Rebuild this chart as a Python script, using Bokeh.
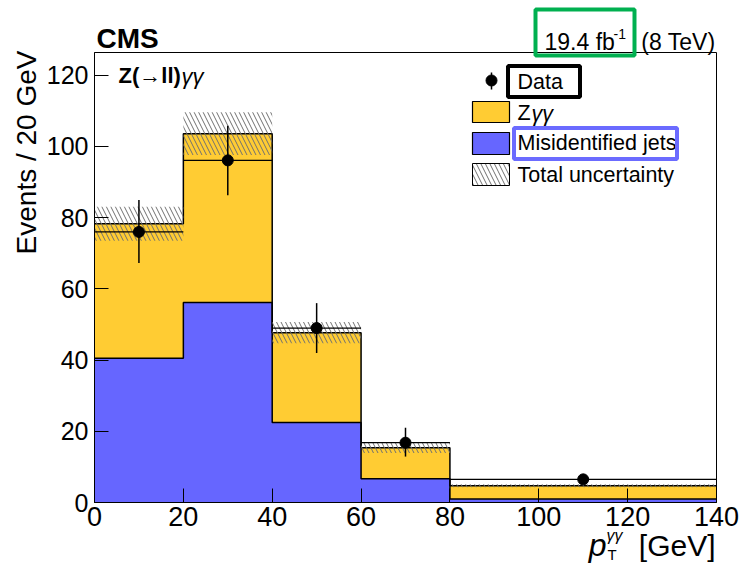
import numpy as np
from math import pi

from bokeh.plotting import figure
from bokeh.models import Range1d, FixedTicker, Label, BoxAnnotation, LinearAxis
from bokeh.embed import file_html
from bokeh.resources import INLINE

# ---- binning in pT(gamma gamma) [GeV] ----
bin_lo = [0, 20, 40, 60, 80]
bin_hi = [20, 40, 60, 80, 140]

# ---- expected yields, events / 20 GeV ----
misid_jets = [40.5, 56.2, 22.5, 6.7, 1.0]
zgg = [37.8, 47.4, 25.2, 8.7, 3.7]
total_unc = [4.8, 6.0, 3.0, 1.5, 0.4]

# ---- observed data, events / 20 GeV ----
data_y = [76.0, 96.1, 49.0, 16.8, 6.5]
data_err_up = [9.0, 9.7, 7.0, 4.2, 1.5]
data_err_dn = [8.7, 9.8, 7.0, 3.9, 1.4]

x_ticks = [0, 20, 40, 60, 80, 100, 120, 140]
y_ticks = [0, 20, 40, 60, 80, 100, 120]

# ---- canvas / inner frame geometry (pixels) ----
W, H = 741, 565
FL, FR, FT, FB = 94, 716, 52, 502
X0, X1 = 0, 140
Y0, Y1 = 0, 126.4

FONT = "Liberation Sans"
YELLOW = "#ffcc33"
BLUE = "#6666ff"
HATCH = "#707070"


def cx(px):
    return X0 + (px - FL) * (X1 - X0) / (FR - FL)


def cy(py):
    return Y0 + (FB - py) * (Y1 - Y0) / (FB - FT)


# the plotting area spans the whole canvas; axes sit at fixed data locations
p = figure(width=W, height=H, x_range=Range1d(cx(0), cx(W)), y_range=Range1d(cy(H), cy(0)),
           output_backend="svg", toolbar_location=None,
           x_axis_location=None, y_axis_location=None, min_border=0)
p.title.visible = False
p.background_fill_color = "white"
p.border_fill_color = "white"
p.outline_line_color = None
p.grid.visible = False

lo = np.array(bin_lo, dtype=float)
hi = np.array(bin_hi, dtype=float)
misid = np.array(misid_jets)
stack_top = misid + np.array(zgg)
unc = np.array(total_unc)
dy = np.array(data_y)
xc = 0.5 * (lo + hi)
edges = np.append(lo, hi[-1])
misid_step = np.append(misid, misid[-1])
top_step = np.append(stack_top, stack_top[-1])

# stacked histograms
p.varea_step(x=edges, y1=np.zeros_like(edges), y2=misid_step, step_mode="after", fill_color=BLUE)
p.varea_step(x=edges, y1=misid_step, y2=top_step, step_mode="after", fill_color=YELLOW)
p.step(edges, misid_step, mode="after", line_color="black", line_width=1.5)
p.step(edges, top_step, mode="after", line_color="black", line_width=1.5)

# total uncertainty band
p.quad(left=lo, right=hi, bottom=stack_top - unc, top=stack_top + unc,
       fill_alpha=0, line_color=None, hatch_pattern="\\", hatch_color=HATCH,
       hatch_scale=9, hatch_weight=1)

# data points with error bars
p.segment(x0=xc, y0=dy - np.array(data_err_dn), x1=xc, y1=dy + np.array(data_err_up),
          line_color="black", line_width=1.5)
p.segment(x0=lo, y0=dy, x1=hi, y1=dy, line_color="black", line_width=1.2)
p.scatter(xc, dy, size=11, color="black")

# frame
p.quad(left=[X0], right=[X1], bottom=[Y0], top=[Y1], fill_alpha=0,
       line_color="black", line_width=1)

# axes
xaxis = LinearAxis(fixed_location=Y0, bounds=(X0, X1), ticker=FixedTicker(ticks=x_ticks))
yaxis = LinearAxis(fixed_location=X0, bounds=(Y0, Y1), ticker=FixedTicker(ticks=y_ticks))
p.add_layout(xaxis, "below")
p.add_layout(yaxis, "left")
for ax in (xaxis, yaxis):
    ax.minor_tick_line_color = None
    ax.major_tick_in = 14
    ax.major_tick_out = 0
    ax.major_tick_line_color = "black"
    ax.major_tick_line_width = 1
    ax.axis_line_color = "black"
    ax.major_label_text_font = FONT
    ax.major_label_text_color = "black"
xaxis.major_label_text_font_size = "27px"
yaxis.major_label_text_font_size = "25px"
xaxis.major_label_standoff = 4
yaxis.major_label_standoff = 6


def text(px, py, s, size, align="left", style="normal", angle=0.0):
    """Place a text by its left/right edge and its vertical middle, in canvas pixels."""
    p.add_layout(Label(x=cx(px), y=cy(py), text=s, text_font=FONT,
                       text_font_size=f"{size}px", text_font_style=style,
                       text_align=align, text_baseline="middle",
                       text_color="black", angle=angle))


# axis titles
text(26, 50, "Events / 20 GeV", 28, align="right", angle=pi / 2)
text(715, 545, "[GeV]", 30, align="right")
text(606, 544, "p", 32, align="right", style="italic")
text(606, 535, "γγ", 16, style="italic")
text(607, 554, "T", 15)

# header
text(96, 38, "CMS", 28, style="bold")
text(544, 41, "19.4 fb", 23)
text(613, 33, "-1", 14)
text(715, 41, "(8 TeV)", 23, align="right")
text(118, 75, "Z(→ll)", 22, style="bold")
text(181, 76, "γγ", 22, style="italic")

# legend
p.scatter([cx(491)], [cy(80)], size=11, color="black")
p.segment(x0=[cx(491)], y0=[cy(72)], x1=[cx(491)], y1=[cy(89)], line_color="black", line_width=1.5)
p.quad(left=[cx(472)], right=[cx(509)], top=[cy(101)], bottom=[cy(122)],
       fill_color=YELLOW, line_color="black", line_width=1.2)
p.quad(left=[cx(472)], right=[cx(509)], top=[cy(132)], bottom=[cy(154)],
       fill_color=BLUE, line_color="black", line_width=1.2)
p.quad(left=[cx(472)], right=[cx(509)], top=[cy(163)], bottom=[cy(185)],
       fill_color="white", line_color="black", line_width=1.0,
       hatch_pattern="\\", hatch_color=HATCH, hatch_scale=9, hatch_weight=1)
text(517, 81, "Data", 21.5)
text(517, 112, "Z", 21.5)
text(531, 113, "γγ", 21.5, style="italic")
text(517, 142, "Misidentified jets", 21.5)
text(517, 174, "Total uncertainty", 21.5)

# highlight boxes
for (l, r, t, b, col) in ((535, 634, 9, 55, "#00b050"),
                          (507.5, 579.5, 65.5, 96.5, "black"),
                          (513.5, 676.5, 127.5, 158.5, "#6b6bff")):
    p.add_layout(BoxAnnotation(left=cx(l), right=cx(r), top=cy(t), bottom=cy(b),
                               fill_alpha=0, line_color=col, line_alpha=1, line_width=4))

open("out.html", "w").write(file_html(p, INLINE))
